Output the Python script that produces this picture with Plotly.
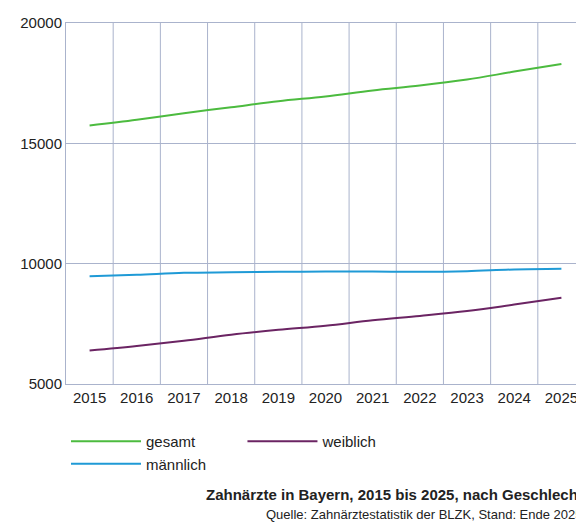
import plotly.graph_objects as go

years = [str(y) for y in range(2015, 2026)]
gesamt = [15740, 15980, 16250, 16500, 16750, 16950, 17200, 17400, 17650, 17980, 18300]
weiblich = [6390, 6580, 6800, 7050, 7250, 7420, 7650, 7830, 8030, 8300, 8580]
maennlich = [9480, 9540, 9620, 9640, 9660, 9670, 9670, 9660, 9690, 9760, 9790]

fig = go.Figure()
for name, vals, col in [("gesamt", gesamt, "#4cbb3f"), ("weiblich", weiblich, "#6b2463"), ("männlich", maennlich, "#1f9ad6")]:
    fig.add_trace(go.Scatter(x=years, y=vals, name=name, mode="lines", line=dict(color=col, width=2, shape="spline")))

fig.update_layout(
    width=584, height=526, margin=dict(l=58, r=6, t=10, b=150),
    plot_bgcolor="white", paper_bgcolor="white",
    font=dict(family="Liberation Sans, Arial", size=15, color="#222"),
    xaxis=dict(type="category", range=[-0.5, 10.5], showgrid=False, showline=True, linecolor="#aab3cc", mirror=True,
               ticks="", tickfont=dict(size=15)),
    yaxis=dict(range=[5000, 20000], tickvals=[5000, 10000, 15000, 20000], tickformat="d", showgrid=True,
               gridcolor="#aab3cc", showline=True, linecolor="#aab3cc", mirror=True, zeroline=False, ticksuffix="  "),
    legend=dict(orientation="h", x=0, xanchor="left", y=-0.19, yanchor="middle", font=dict(size=15),
                entrywidthmode="fraction", entrywidth=0.34, itemwidth=70),
    showlegend=True,
)
for i in range(len(years) - 1):
    fig.add_shape(type="line", xref="x", yref="paper", x0=i + 0.5, x1=i + 0.5, y0=0, y1=1,
                  line=dict(color="#aab3cc", width=1), layer="below")
fig.add_annotation(text="<b>Zahnärzte in Bayern, 2015 bis 2025, nach Geschlecht</b>", xref="paper", yref="paper",
                   x=1, y=-0.305, xanchor="right", yanchor="middle", showarrow=False, font=dict(size=15))
fig.add_annotation(text="Quelle: Zahnärztestatistik der BLZK, Stand: Ende 2025", xref="paper", yref="paper",
                   x=1, y=-0.362, xanchor="right", yanchor="middle", showarrow=False, font=dict(size=13))
fig.write_html("out.html")
